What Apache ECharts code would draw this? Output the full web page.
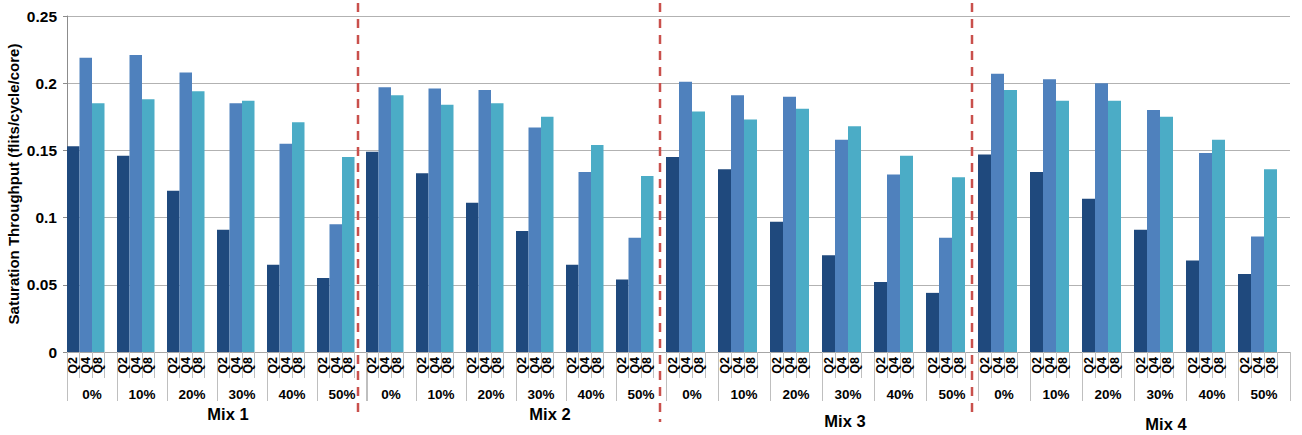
<!DOCTYPE html>
<html><head><meta charset="utf-8">
<script src="https://cdn.jsdelivr.net/npm/echarts@6/dist/echarts.min.js"></script>
<style>html,body{margin:0;padding:0;background:#fff}#c{width:1302px;height:435px}</style>
</head><body><div id="c"></div>
<script>
// ---- data ----
const percentages = ['0%', '10%', '20%', '30%', '40%', '50%'];
const queues = ['Q2', 'Q4', 'Q8'];
const mixes = ['Mix 1', 'Mix 2', 'Mix 3', 'Mix 4'];

const mix1Q2 = [0.153, 0.146, 0.120, 0.091, 0.065, 0.055];
const mix1Q4 = [0.219, 0.221, 0.208, 0.185, 0.155, 0.095];
const mix1Q8 = [0.185, 0.188, 0.194, 0.187, 0.171, 0.145];
const mix2Q2 = [0.149, 0.133, 0.111, 0.090, 0.065, 0.054];
const mix2Q4 = [0.197, 0.196, 0.195, 0.167, 0.134, 0.085];
const mix2Q8 = [0.191, 0.184, 0.185, 0.175, 0.154, 0.131];
const mix3Q2 = [0.145, 0.136, 0.097, 0.072, 0.052, 0.044];
const mix3Q4 = [0.201, 0.191, 0.190, 0.158, 0.132, 0.085];
const mix3Q8 = [0.179, 0.173, 0.181, 0.168, 0.146, 0.130];
const mix4Q2 = [0.147, 0.134, 0.114, 0.091, 0.068, 0.058];
const mix4Q4 = [0.207, 0.203, 0.200, 0.180, 0.148, 0.086];
const mix4Q8 = [0.195, 0.187, 0.187, 0.175, 0.158, 0.136];

const mixData = [
  [mix1Q2, mix1Q4, mix1Q8],
  [mix2Q2, mix2Q4, mix2Q8],
  [mix3Q2, mix3Q4, mix3Q8],
  [mix4Q2, mix4Q4, mix4Q8]
];

// ---- layout / style ----
const colors = ['#1f497d', '#4f81bd', '#4bacc6'];
const gridLeft = [67, 366, 666, 978];
const gridWidth = [300, 300, 312, 312];
const gridTop = 16, gridHeight = 336;
const nameGaps = [51, 53, 60, 63];
const nameShift = [11, 34, 23, 32];
const font = 'Liberation Sans, Arial, sans-serif';

// category slots: Q2, Q4, Q8, blank for each percentage
const qCats = [];
percentages.forEach(() => { queues.forEach(q => qCats.push(q)); qCats.push(''); });

const grids = [], xAxes = [], yAxes = [], series = [];
mixes.forEach((mix, k) => {
  grids.push({ left: gridLeft[k], top: gridTop, width: gridWidth[k], height: gridHeight,
               containLabel: false, outerBoundsMode: 'none' });
  yAxes.push({
    gridIndex: k, type: 'value', min: 0, max: 0.25, interval: 0.05,
    axisLine: { show: k === 0, lineStyle: { color: '#8c8c8c', width: 1 } },
    axisTick: { show: k === 0, length: 4, lineStyle: { color: '#8c8c8c' } },
    axisLabel: { show: k === 0, fontSize: 15.5, fontWeight: 'bold', color: '#000', fontFamily: font, margin: 10 },
    splitLine: { lineStyle: { color: '#b2b2b2', width: 1 } },
    name: k === 0 ? 'Saturation Throughput (flits/cycle/core)' : '',
    nameLocation: 'middle', nameGap: 46,
    nameTextStyle: { fontSize: 15, fontWeight: 'bold', color: '#000', fontFamily: font }
  });
  xAxes.push({
    gridIndex: k, type: 'category', data: qCats, position: 'bottom', boundaryGap: true,
    axisLine: { lineStyle: { color: '#a6a6a6', width: 1 } },
    axisTick: { show: true, length: 26, interval: (i) => i % 4 !== 0, lineStyle: { color: '#bfbfbf' } },
    axisLabel: { interval: 0, rotate: 90, fontSize: 12.5, fontWeight: 'bold', color: '#000', fontFamily: font, margin: 5 }
  });
  xAxes.push({
    gridIndex: k, type: 'category', data: percentages, position: 'bottom', boundaryGap: true,
    axisLine: { show: false },
    axisTick: { show: true, length: 49, interval: 0, lineStyle: { color: '#bfbfbf' } },
    axisLabel: { interval: 0, fontSize: 13.5, fontWeight: 'bold', color: '#000', fontFamily: font, margin: 35 },
    name: mix, nameLocation: 'middle', nameGap: nameGaps[k],
    nameTextStyle: { fontSize: 16.5, fontWeight: 'bold', color: '#000', fontFamily: font, padding: [0, 0, 0, 2 * nameShift[k]] }
  });
  queues.forEach((q, qi) => {
    const vals = mixData[k][qi];
    const data = [];
    percentages.forEach((p, g) => {
      for (let s = 0; s < 4; s++) data.push(s === qi ? vals[g] : '-');
    });
    series.push({
      type: 'bar', name: q, xAxisIndex: 2 * k, yAxisIndex: k,
      data: data, barWidth: '100%', barGap: '-100%', barCategoryGap: '0%',
      itemStyle: { color: colors[qi] }, silent: true
    });
  });
});

// red dashed separators between mixes
const sepX = [358, 660, 972];
const sepBottom = [417, 422, 417];
const graphics = sepX.map((x, i) => ({
  type: 'line', z: 100,
  shape: { x1: x, y1: 3, x2: x, y2: sepBottom[i] },
  style: { stroke: '#c9504c', lineWidth: 2.5, lineDash: [9, 7] }
}));

const chart = echarts.init(document.getElementById('c'), null, { renderer: 'svg' });
chart.setOption({
  backgroundColor: '#fff',
  animation: false,
  grid: grids, xAxis: xAxes, yAxis: yAxes, series: series,
  graphic: graphics
});
</script></body></html>
